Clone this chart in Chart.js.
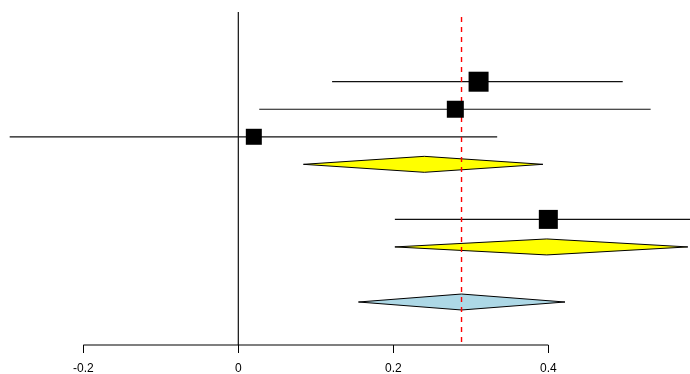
<!DOCTYPE html>
<html>
<head>
<meta charset="utf-8">
<script src="https://cdn.jsdelivr.net/npm/chart.js@4/dist/chart.umd.min.js"></script>
<style>
  html, body { margin: 0; padding: 0; background: #fff; }
  #wrap { width: 690px; height: 374px; }
</style>
</head>
<body>
<div id="wrap"><canvas id="c" width="690" height="374"></canvas></div>
<script>
// ---- data ----
const studyRows    = [0, 1, 2, 5];
const studyEst     = [0.310, 0.280, 0.020, 0.400];
const studyLo      = [0.121, 0.027, -0.295, 0.202];
const studyHi      = [0.496, 0.532, 0.334, 0.600];
const studyWeights = [20, 17, 16, 19];

const diamondRows = [3, 6, 8];
const diamondEst  = [0.240, 0.398, 0.288];
const diamondLo   = [0.084, 0.202, 0.155];
const diamondHi   = [0.393, 0.580, 0.4215];

const summaryValue = 0.288;
const xTicks = [-0.2, 0, 0.2, 0.4];

// ---- styles / layout ----
const diamondFill = ['#FFFF00', '#FFFF00', '#ADD8E6'];
const diamondHalf = 0.29;
const xMin = -0.3075, xMax = 0.5828;
const yTop = -2.967, yBottom = 9.561;

const datasets = [];

// CI lines
studyRows.forEach((r, i) => {
  datasets.push({
    type: 'line',
    data: [{x: studyLo[i], y: r}, {x: studyHi[i], y: r}],
    borderColor: '#111', borderWidth: 1.2, pointRadius: 0, showLine: true, fill: false, order: 5
  });
});

// diamonds
diamondRows.forEach((r, i) => {
  datasets.push({
    type: 'line',
    data: [
      {x: diamondLo[i], y: r},
      {x: diamondEst[i], y: r - diamondHalf},
      {x: diamondHi[i], y: r},
      {x: diamondEst[i], y: r + diamondHalf},
      {x: diamondLo[i], y: r}
    ],
    borderColor: '#000', borderWidth: 1, backgroundColor: diamondFill[i],
    pointRadius: 0, showLine: true, fill: 'shape', tension: 0, order: 4
  });
});

// zero line
datasets.push({
  type: 'line',
  data: [{x: 0, y: -2.53}, {x: 0, y: yBottom}],
  borderColor: '#111', borderWidth: 1.2, pointRadius: 0, showLine: true, fill: false, order: 6
});

// summary dashed line
datasets.push({
  type: 'line',
  data: [{x: summaryValue, y: -2.35}, {x: summaryValue, y: 9.45}],
  borderColor: '#FF0000', backgroundColor: '#FF0000',
  borderWidth: 1.4, borderDash: [5, 5], pointRadius: 0, showLine: true, fill: false, order: 2
});

// axis line (from first to last tick)
datasets.push({
  type: 'line',
  data: [{x: xTicks[0], y: yBottom}, {x: xTicks[xTicks.length - 1], y: yBottom}],
  borderColor: '#000', borderWidth: 1.2, pointRadius: 0, showLine: true, fill: false, clip: false, order: 1
});

// squares
datasets.push({
  type: 'scatter',
  data: studyRows.map((r, i) => ({x: studyEst[i], y: r})),
  pointStyle: 'rect',
  pointRadius: studyWeights.map(w => w / (2 * Math.SQRT1_2)),
  backgroundColor: '#000', borderColor: '#000', borderWidth: 0, order: 0
});

new Chart(document.getElementById('c'), {
  type: 'scatter',
  data: { datasets },
  options: {
    responsive: false,
    animation: false,
    events: [],
    layout: { padding: 0, autoPadding: false },
    plugins: { legend: { display: false }, tooltip: { enabled: false } },
    scales: {
      x: {
        type: 'linear', min: xMin, max: xMax,
        afterBuildTicks: s => { s.ticks = xTicks.map(v => ({ value: v })); },
        afterFit: s => { s.height = 29; },
        grid: { drawOnChartArea: false, drawTicks: true, tickLength: 8, color: '#000', lineWidth: 1 },
        border: { display: false },
        ticks: {
          color: '#000', padding: 8, maxRotation: 0, autoSkip: false,
          font: { family: 'Liberation Sans', size: 12 },
          callback: v => String(v)
        }
      },
      y: { type: 'linear', display: false, reverse: true, min: yTop, max: yBottom }
    }
  }
});
</script>
</body>
</html>
